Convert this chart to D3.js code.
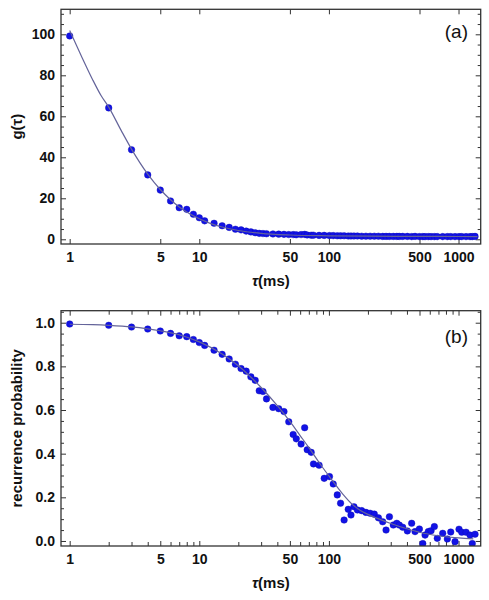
<!DOCTYPE html>
<html><head><meta charset="utf-8">
<script src="https://cdn.jsdelivr.net/npm/d3@7"></script>
<style>
html,body{margin:0;padding:0;background:#fff;}
svg text{font-family:"Liberation Sans",Arial,Helvetica,sans-serif;}
</style></head>
<body><svg id="c" width="489" height="600"></svg>
<script>
// ---------- data ----------
const tau = [1,2,3,4,5,6,7,8,9,10,11,
  13,15,17,19,21,23,25,27,29,31,33,
  37,41,45,49,53,56,61,65,68,73,76,
  84,92,101,108,116,123,131,141,148,156,166,
  179,193,208,224,241,260,276,293,314,334,349,
  371,403,435,462,499,530,552,585,614,651,686,
  755,820,871,940,1009,1059,1143,1227,1277,1341];
const gVals = [99.2,64.1,43.7,31.4,24.0,18.7,15.4,14.6,12.2,10.5,9.0,
  7.8,6.6,5.8,4.9,4.6,4.0,3.6,3.2,2.9,2.8,2.7,
  2.6,2.5,2.4,2.3,2.3,2.2,2.3,2.4,2.1,2.0,2.0,
  1.9,1.9,1.8,1.8,1.7,1.7,1.7,1.6,1.6,1.6,1.6,
  1.5,1.5,1.5,1.5,1.5,1.4,1.4,1.4,1.4,1.4,1.4,
  1.4,1.4,1.3,1.4,1.3,1.3,1.3,1.3,1.3,1.3,1.3,
  1.3,1.3,1.3,1.3,1.3,1.3,1.3,1.3,1.3,1.4];
const pVals = [0.994,0.988,0.980,0.971,0.962,0.951,0.940,0.936,0.923,0.909,0.896,
  0.874,0.855,0.834,0.810,0.790,0.778,0.752,0.736,0.688,0.685,0.651,
  0.612,0.606,0.593,0.546,0.488,0.468,0.444,0.519,0.418,0.406,0.353,
  0.347,0.287,0.295,0.261,0.211,0.173,0.096,0.145,0.119,0.157,0.142,
  0.139,0.131,0.127,0.123,0.106,0.088,0.050,0.111,0.073,0.081,0.073,
  0.063,0.046,0.081,0.043,0.055,-0.012,0.027,0.043,0.047,0.066,0.012,
  0.035,0.009,0.041,-0.003,0.054,0.040,0.040,0.027,-0.012,0.031];
// fitted curves (sampled)
const fitTauA = [1,1.25,1.5,1.75,2,2.5,3,4,5,6,7,8,10,12,15,20,30,50,100,200,500,1000,1400];
const fitA    = [101.8,88.5,78,70,64.5,53,44,31.8,24.3,19.3,15.8,13.3,10.0,7.9,6.0,4.3,2.9,2.1,1.7,1.5,1.4,1.35,1.33];
const fitTauB = [1,1.5,2,3,4,5,7,10,15,20,30,40,50,60,70,85,100,115,130,150,175,200,250,300,400,500,700,1000,1300];
const fitB    = [0.993,0.991,0.988,0.981,0.972,0.963,0.945,0.912,0.857,0.803,0.703,0.620,0.548,0.483,0.428,0.355,0.298,0.250,0.210,0.170,0.140,0.122,0.098,0.080,0.056,0.040,0.024,0.014,0.010];
// ticks
const xMajor = [1,5,10,50,100,500,1000];
const xMinor = [2,3,4,6,7,8,9,20,30,40,60,70,80,90,200,300,400,600,700,800,900];
const yMajorA = [0,20,40,60,80,100];
const yMinorA = [5,10,15,25,30,35,45,50,55,65,70,75,85,90,95,105,110];
const yMajorB = [0,0.2,0.4,0.6,0.8,1.0];
const yMinorB = [0.05,0.1,0.15,0.25,0.3,0.35,0.45,0.5,0.55,0.65,0.7,0.75,0.85,0.9,0.95,1.05];

// ---------- drawing ----------
const svg = d3.select("#c");
const L = 61, R = 480.7;
const dotColor = "#1212e6", lineColor = "#64649a", frameColor = "#333";

function panel(opt){
  const x = d3.scaleLog().domain([0.857,1483]).range([L,R]);
  const y = d3.scaleLinear().domain(opt.yDom).range([opt.bottom,opt.top]);
  const g = svg.append("g");
  const cid = "clip"+opt.id;
  svg.append("clipPath").attr("id",cid).append("rect")
    .attr("x",L).attr("y",opt.top).attr("width",R-L).attr("height",opt.bottom-opt.top);

  const styleAxis = sel => {
    sel.select(".domain").remove();
    sel.selectAll(".tick line").attr("stroke",frameColor).attr("stroke-width",1);
    sel.selectAll("text").attr("font-size",14).attr("font-weight","bold").attr("fill","#111")
      .attr("font-family","'Liberation Sans',Arial,sans-serif");
  };
  // bottom major
  g.append("g").attr("transform",`translate(0,${opt.bottom})`)
    .call(d3.axisBottom(x).tickValues(xMajor).tickFormat(d3.format("d")).tickSizeInner(-5).tickSizeOuter(0).tickPadding(8))
    .call(styleAxis);
  g.append("g").attr("transform",`translate(0,${opt.top})`)
    .call(d3.axisTop(x).tickValues(xMajor).tickFormat("").tickSizeInner(-5).tickSizeOuter(0))
    .call(styleAxis);
  if(opt.xMinor){
    g.append("g").attr("transform",`translate(0,${opt.bottom})`)
      .call(d3.axisBottom(x).tickValues(xMinor).tickFormat("").tickSizeInner(-4).tickSizeOuter(0))
      .call(styleAxis);
    g.append("g").attr("transform",`translate(0,${opt.top})`)
      .call(d3.axisTop(x).tickValues(xMinor).tickFormat("").tickSizeInner(-4).tickSizeOuter(0))
      .call(styleAxis);
  }
  g.append("g").attr("transform",`translate(${L},0)`)
    .call(d3.axisLeft(y).tickValues(opt.yMajor).tickFormat(opt.yFmt).tickSizeInner(-5).tickSizeOuter(0).tickPadding(6))
    .call(styleAxis);
  g.append("g").attr("transform",`translate(${L},0)`)
    .call(d3.axisLeft(y).tickValues(opt.yMinor).tickFormat("").tickSizeInner(-3).tickSizeOuter(0))
    .call(styleAxis);
  g.append("g").attr("transform",`translate(${R},0)`)
    .call(d3.axisRight(y).tickValues(opt.yMajor).tickFormat("").tickSizeInner(-5).tickSizeOuter(0))
    .call(styleAxis);
  g.append("g").attr("transform",`translate(${R},0)`)
    .call(d3.axisRight(y).tickValues(opt.yMinor).tickFormat("").tickSizeInner(-3).tickSizeOuter(0))
    .call(styleAxis);

  // points
  const pts = g.append("g").attr("clip-path",`url(#${cid})`);
  pts.selectAll("circle").data(tau.map((t,i)=>[t,opt.vals[i]])).join("circle")
    .attr("cx",d=>x(d[0])).attr("cy",d=>y(d[1])).attr("r",3.3)
    .attr("fill",dotColor).attr("stroke","#0a0ab0").attr("stroke-width",0.4);
  // fit line
  const line = d3.line().x(d=>x(d[0])).y(d=>y(d[1])).curve(d3.curveMonotoneX);
  g.append("path").attr("clip-path",`url(#${cid})`)
    .datum(opt.fitT.map((t,i)=>[t,opt.fitV[i]]))
    .attr("d",line).attr("fill","none").attr("stroke",lineColor).attr("stroke-width",1.2);

  // frame
  g.append("rect").attr("x",L).attr("y",opt.top).attr("width",R-L).attr("height",opt.bottom-opt.top)
    .attr("fill","none").attr("stroke",frameColor).attr("stroke-width",1.3);

  // titles
  const xl = g.append("text").attr("x",(L+R)/2).attr("y",opt.xlabY).attr("text-anchor","middle")
    .attr("font-size",15).attr("font-weight","bold").attr("fill","#111");
  xl.append("tspan").attr("font-style","italic").text("τ");
  xl.append("tspan").text("(ms)");
  g.append("text").attr("transform",`translate(22,${(opt.top+opt.bottom)/2}) rotate(-90)`)
    .attr("text-anchor","middle").attr("font-size",15).attr("font-weight","bold").attr("fill","#111")
    .text(opt.ylab);
  g.append("text").attr("x",468).attr("y",opt.tagY).attr("text-anchor","end")
    .attr("font-size",19).attr("fill","#111").text(opt.tag);
}

panel({id:"a", top:9.3, bottom:244, yDom:[-2.3,112.2], yMajor:yMajorA, yMinor:yMinorA,
  yFmt:d3.format("d"), xMinor:false, vals:gVals, fitT:fitTauA, fitV:fitA,
  xlabY:286, ylab:"g(τ)", tag:"(a)", tagY:38});
panel({id:"b", top:310.7, bottom:546, yDom:[-0.023,1.055], yMajor:yMajorB, yMinor:yMinorB,
  yFmt:d3.format(".1f"), xMinor:true, vals:pVals, fitT:fitTauB, fitV:fitB,
  xlabY:588, ylab:"recurrence probability", tag:"(b)", tagY:342.5});
</script></body></html>
